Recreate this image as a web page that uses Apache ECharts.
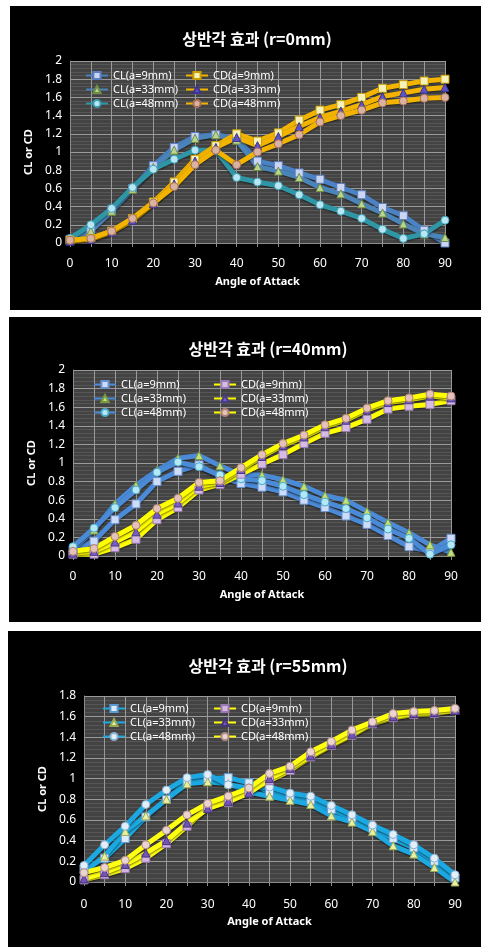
<!DOCTYPE html>
<html>
<head>
<meta charset="utf-8">
<script src="https://cdn.jsdelivr.net/npm/echarts@6/dist/echarts.min.js"></script>
<style>
  html, body { margin: 0; padding: 0; background: #ffffff; }
  body { width: 481px; height: 947px; position: relative; overflow: hidden; }
  .panel { position: absolute; background: #000000; }
</style>
</head>
<body>
<div id="c1" class="panel" style="left:10px;top:6px;width:471px;height:304px;"></div>
<div id="c2" class="panel" style="left:9px;top:317px;width:472px;height:305px;"></div>
<div id="c3" class="panel" style="left:8px;top:631px;width:473px;height:316px;"></div>
<script>
// Angle of attack categories (degrees)
const angles = ['0','5','10','15','20','25','30','35','40','45','50','55','60','65','70','75','80','85','90'];
const clNames = ['CL(a=9mm)', 'CL(a=33mm)', 'CL(a=48mm)'];
const cdNames = ['CD(a=9mm)', 'CD(a=33mm)', 'CD(a=48mm)'];
const titles = ['상반각 효과 (r=0mm)', '상반각 효과 (r=40mm)', '상반각 효과 (r=55mm)'];
const xAxisName = 'Angle of Attack';
const yAxisName = 'CL or CD';

// r = 0 mm
const r0_CL9  = [0.04,0.15,0.37,0.60,0.85,1.05,1.17,1.19,1.15,0.90,0.85,0.77,0.70,0.61,0.53,0.39,0.30,0.14,0.00];
const r0_CL33 = [0.03,0.13,0.35,0.59,0.83,1.02,1.15,1.19,1.13,0.84,0.79,0.72,0.61,0.54,0.43,0.33,0.21,0.10,0.06];
const r0_CL48 = [0.05,0.20,0.38,0.61,0.81,0.92,1.02,1.02,0.72,0.67,0.63,0.53,0.42,0.35,0.27,0.15,0.05,0.10,0.25];
const r0_CD9  = [0.03,0.05,0.13,0.27,0.45,0.67,0.92,1.07,1.20,1.12,1.21,1.35,1.46,1.52,1.60,1.70,1.74,1.78,1.80];
const r0_CD33 = [0.02,0.04,0.12,0.25,0.43,0.65,0.90,1.05,1.16,1.07,1.17,1.28,1.38,1.45,1.52,1.61,1.65,1.69,1.71];
const r0_CD48 = [0.03,0.05,0.13,0.27,0.44,0.62,0.86,1.02,0.86,1.00,1.09,1.19,1.33,1.40,1.46,1.54,1.56,1.59,1.60];

// r = 40 mm
const r40_CL9  = [0.05,0.16,0.39,0.56,0.80,0.91,0.98,0.85,0.78,0.74,0.69,0.60,0.52,0.43,0.34,0.22,0.10,0.05,0.19];
const r40_CL33 = [0.07,0.28,0.56,0.76,0.92,1.05,1.08,0.97,0.87,0.87,0.82,0.75,0.65,0.60,0.48,0.36,0.25,0.12,0.04];
const r40_CL48 = [0.10,0.30,0.52,0.71,0.90,1.01,0.96,0.87,0.83,0.81,0.75,0.66,0.58,0.51,0.41,0.29,0.19,0.02,0.12];
const r40_CD9  = [0.02,0.02,0.09,0.18,0.39,0.52,0.71,0.77,0.88,0.99,1.09,1.21,1.32,1.38,1.47,1.58,1.61,1.63,1.67];
const r40_CD33 = [0.03,0.05,0.15,0.26,0.45,0.57,0.75,0.79,0.93,1.07,1.19,1.28,1.39,1.46,1.57,1.65,1.68,1.72,1.70];
const r40_CD48 = [0.05,0.08,0.21,0.33,0.51,0.62,0.79,0.81,0.95,1.09,1.21,1.30,1.41,1.48,1.59,1.67,1.70,1.74,1.72];

// r = 55 mm
const r55_CL9  = [0.12,0.23,0.42,0.63,0.80,0.97,1.00,1.01,0.96,0.87,0.83,0.79,0.70,0.62,0.52,0.42,0.33,0.20,0.04];
const r55_CL33 = [0.10,0.25,0.49,0.64,0.80,0.95,0.97,0.95,0.87,0.83,0.79,0.75,0.64,0.58,0.49,0.35,0.27,0.14,0.00];
const r55_CL48 = [0.16,0.36,0.54,0.75,0.89,1.01,1.04,0.94,0.91,0.92,0.86,0.83,0.74,0.65,0.55,0.46,0.36,0.23,0.07];
const r55_CD9  = [0.02,0.07,0.13,0.23,0.37,0.54,0.72,0.77,0.87,0.98,1.08,1.21,1.32,1.42,1.53,1.59,1.62,1.63,1.66];
const r55_CD33 = [0.03,0.09,0.17,0.28,0.40,0.57,0.71,0.78,0.86,1.00,1.10,1.22,1.33,1.43,1.54,1.60,1.63,1.64,1.66];
const r55_CD48 = [0.09,0.14,0.21,0.36,0.50,0.65,0.76,0.83,0.91,1.05,1.12,1.26,1.36,1.47,1.55,1.63,1.65,1.66,1.68];

const yMax = [2, 2, 1.8];

const LATIN = '"Noto Sans", "Open Sans", sans-serif';
const KOREAN = '"Noto Sans CJK KR", "Noto Sans", sans-serif';
const symbols = ['rect', 'triangle', 'circle'];

function lineSeries(name, data, lineColor, fill, border, symbol) {
  return {
    name: name,
    type: 'line',
    data: data,
    symbol: symbol,
    symbolSize: 8,
    showSymbol: true,
    lineStyle: { color: lineColor, width: 5, shadowColor: 'rgba(0,0,0,0.55)', shadowBlur: 2, shadowOffsetY: 1 },
    itemStyle: { color: fill, borderColor: border, borderWidth: 1 },
    emphasis: { disabled: true },
    animation: false
  };
}

function buildOption(cfg) {
  const legendBase = {
    orient: 'vertical',
    itemWidth: 22,
    itemHeight: 9,
    itemGap: 3,
    textStyle: { color: '#ffffff', fontFamily: LATIN, fontSize: 11 },
    selectedMode: false
  };
  const series = [];
  clNames.forEach((n, i) => series.push(lineSeries(n, cfg.cl[i], cfg.clLine[i], cfg.clFill[i], cfg.clBorder[i], symbols[i])));
  cdNames.forEach((n, i) => series.push(lineSeries(n, cfg.cd[i], cfg.cdLine[i], cfg.cdFill[i], cfg.cdBorder[i], symbols[i])));
  return {
    backgroundColor: '#000000',
    animation: false,
    graphic: [{
      type: 'text',
      x: cfg.titleX, y: cfg.titleY,
      style: {
        text: cfg.title,
        fill: '#ffffff',
        font: 'bold 16px ' + KOREAN,
        textAlign: 'center',
        textVerticalAlign: 'middle'
      }
    }],
    grid: {
      left: cfg.grid[0], top: cfg.grid[1], right: cfg.grid[2], bottom: cfg.grid[3],
      show: true, backgroundColor: '#434343', borderWidth: 0
    },
    legend: [
      Object.assign({}, legendBase, { data: clNames, left: cfg.leg1[0], top: cfg.leg1[1] }),
      Object.assign({}, legendBase, { data: cdNames, left: cfg.leg2[0], top: cfg.leg2[1] })
    ],
    xAxis: {
      type: 'category',
      data: angles,
      boundaryGap: false,
      name: xAxisName,
      nameLocation: 'middle',
      nameGap: cfg.xNameGap,
      nameTextStyle: { color: '#ffffff', fontFamily: LATIN, fontSize: 11, fontWeight: 'bold' },
      axisLine: { lineStyle: { color: '#8c8c8c', width: 1 } },
      axisTick: { show: true, interval: 0, length: 4, lineStyle: { color: '#8c8c8c' } },
      axisLabel: { interval: 1, color: '#ffffff', fontFamily: LATIN, fontSize: 12, margin: cfg.xLabelMargin },
      splitLine: { show: true, interval: 0, lineStyle: { color: '#9a9a9a', width: 1 } }
    },
    yAxis: {
      type: 'value',
      min: 0,
      max: cfg.yMax,
      interval: 0.2,
      name: yAxisName,
      nameLocation: 'middle',
      nameGap: cfg.yNameGap,
      nameRotate: 90,
      nameTextStyle: { color: '#ffffff', fontFamily: LATIN, fontSize: 11, fontWeight: 'bold' },
      axisLine: { show: true, lineStyle: { color: '#8c8c8c' } },
      axisTick: { show: false },
      axisLabel: { color: '#ffffff', fontFamily: LATIN, fontSize: 12, margin: 8 },
      splitLine: { show: true, lineStyle: { color: '#9a9a9a', width: 1 } },
      minorTick: { show: false, splitNumber: 5 },
      minorSplitLine: { show: true, lineStyle: { color: '#565656', width: 1 } }
    },
    series: series
  };
}

const configs = [
  {
    el: 'c1', title: titles[0], titleX: 247, titleY: 33,
    grid: [60, 55, 36, 67], yMax: yMax[0], xNameGap: 33, yNameGap: 30, xLabelMargin: 15,
    leg1: [70, 59], leg2: [170, 59],
    cl: [r0_CL9, r0_CL33, r0_CL48], cd: [r0_CD9, r0_CD33, r0_CD48],
    clLine: ['#4a82c4', '#4a84b8', '#2f96a6'],
    clFill: ['#c9d5f2', '#bcd58e', '#b8e6f2'],
    clBorder: ['#5b7fc0', '#6f8f45', '#3a9fb2'],
    cdLine: ['#f2b400', '#f2b400', '#f2b400'],
    cdFill: ['#f6f1b8', '#5e52c8', '#d9b2a2'],
    cdBorder: ['#c9a000', '#3c3490', '#a9705a']
  },
  {
    el: 'c2', title: titles[1], titleX: 259, titleY: 32,
    grid: [64, 53, 30, 66], yMax: yMax[1], xNameGap: 33, yNameGap: 29, xLabelMargin: 15,
    leg1: [79, 57], leg2: [199, 57],
    cl: [r40_CL9, r40_CL33, r40_CL48], cd: [r40_CD9, r40_CD33, r40_CD48],
    clLine: ['#4a8ad6', '#4a8ad6', '#4a8ad6'],
    clFill: ['#cddcf8', '#c3e07e', '#b4e8f6'],
    clBorder: ['#6a90d0', '#7a9a40', '#4aa8c8'],
    cdLine: ['#ffff00', '#ffff00', '#ffff00'],
    cdFill: ['#d4bce4', '#7a5cc4', '#e2c2ba'],
    cdBorder: ['#9a7ab4', '#4a3a8a', '#b08070']
  },
  {
    el: 'c3', title: titles[2], titleX: 260, titleY: 35,
    grid: [76, 65, 26, 65], yMax: yMax[2], xNameGap: 31, yNameGap: 32, xLabelMargin: 17,
    leg1: [89, 67], leg2: [200, 67],
    cl: [r55_CL9, r55_CL33, r55_CL48], cd: [r55_CD9, r55_CD33, r55_CD48],
    clLine: ['#1ca8e0', '#1ca8e0', '#1ca8e0'],
    clFill: ['#dbe9f8', '#e9f0a4', '#e2eef8'],
    clBorder: ['#5a9ad0', '#9aa850', '#8ab0d0'],
    cdLine: ['#ffff10', '#ffff10', '#ffff10'],
    cdFill: ['#d4b4e2', '#7454b4', '#ead4d2'],
    cdBorder: ['#9a78b0', '#44347a', '#b08a88']
  }
];

configs.forEach(cfg => {
  const chart = echarts.init(document.getElementById(cfg.el), null, { renderer: 'canvas' });
  chart.setOption(buildOption(cfg));
});
</script>
</body>
</html>
